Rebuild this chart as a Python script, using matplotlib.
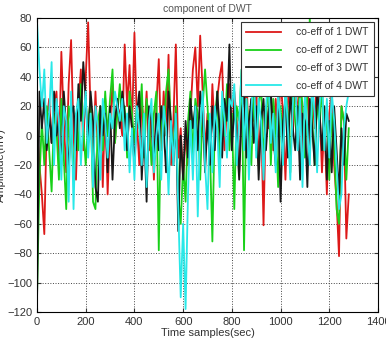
import numpy as np
import matplotlib.pyplot as plt

plt.rcParams['font.family'] = ['Liberation Sans', 'DejaVu Sans']

# samples every 10 points
t = np.arange(0, 1281, 10)

coef1 = [5, -20, -40, -67, 10, 25, -5, 20, 30, -15,
         57, 10, -25, 35, 65, 0, -30, 20, 45, -10,
         40, 77, 15, -20, 30, -10, 20, -35, 25, -40,
         10, 35, -5, 20, 15, 0, 62, 20, 48, 5,
         70, 10, -20, 25, 0, 30, -10, 15, -30, 20,
         52, -10, 30, 0, 55, -20, 10, 62, -15, 5,
         -30, 0, -20, 15, 45, 60, 20, 68, 30, -10,
         15, -20, 35, 0, 25, 40, 50, -10, 20, 35,
         -5, 30, 10, -25, 20, 0, 45, -15, 25, 10,
         35, -20, 15, -61, 20, 5, 30, -10, 25, 0,
         40, 15, -30, 20, 55, 0, 35, 10, 60, -15,
         25, 45, -10, 30, 5, 50, 20, -25, 10, -40,
         15, 30, -20, -45, -82, 20, 10, -70, -40]

coef2 = [-110, -30, 10, -20, 20, -10, -38, 15, 5, -30,
         25, -15, -50, 20, 10, -30, 15, -10, 35, 5,
         -20, 10, 25, -45, -50, 10, 20, -10, 30, 0,
         25, 45, -5, 15, 35, 10, 20, -15, 30, 15,
         -5, 20, 5, 35, -15, 25, 10, -20, 15, 30,
         -78, 20, 0, 30, 45, 5, -10, 20, -40, -60,
         -20, -45, 10, 30, -15, 25, 15, -30, 20, 45,
         20, -10, -72, 10, 30, -20, 25, 0, 35, -10,
         15, -50, 20, 10, 45, -78, 25, 5, -20, 30,
         -10, 20, 35, -15, 10, 40, -20, 25, 5, -35,
         20, -10, 30, 15, -25, 35, 10, -5, 40, 20,
         -15, 30, 80, 10, -20, 25, 5, 35, -10, 20,
         -30, 15, -5, -50, -60, 20, 10, -30, 5]

coef3 = [-115, 30, 5, 25, -10, 15, -5, 30, 0, 10,
         -20, 30, 5, -25, 15, 20, -10, 35, 10, 50,
         25, -5, 30, 10, -35, -45, 20, 0, 15, -25,
         20, -30, 10, 25, 5, 30, 15, -10, 20, 5,
         -20, 15, 30, -30, 5, -45, 20, 10, -20, 15,
         -10, 20, 5, -25, 30, 10, -20, 15, -65, 0,
         -30, 10, -15, 25, 5, 20, -10, 30, 15, -25,
         10, -20, 20, -10, 30, 5, -15, 25, 10, 62,
         -10, 20, 0, -30, 15, 30, -15, 10, 25, -5,
         20, -30, 10, 25, -10, 15, 30, 0, -20, 20,
         -45, 10, 25, -15, 30, 5, -10, 20, -30, 15,
         10, -35, 25, 5, -20, 30, 15, -10, 20, -30,
         10, -25, 20, -10, -40, 5, -20, 15, 10]

coef4 = [78, 45, 20, 45, -5, 15, 50, -20, 25, 10,
         -30, 20, 10, -45, 30, -50, 15, 25, -20, 10,
         30, -15, 15, -35, 20, 5, -30, 25, 10, -15,
         15, 5, 30, 20, 10, 25, -10, 15, -25, 5,
         -30, 20, 5, -20, 15, -35, 10, 25, -25, 0,
         15, -30, 20, 5, -40, 10, -20, 15, -50, -110,
         -60, -118, -40, 10, -30, 20, -55, 5, 30, -20,
         -50, 15, -25, 20, 5, -35, 30, 10, -15, 25,
         20, 35, -20, 10, 45, -10, 25, -30, 15, 50,
         -15, 25, 10, -30, 20, 40, -5, 15, -25, 30,
         10, -20, 35, 5, -30, 20, 45, -10, 25, -35,
         30, 5, -20, 35, 15, -25, 20, 40, -10, 25,
         -15, 30, 10, -20, -50, -40, 5, 20, 30]

labels = ['co-eff of 1 DWT', 'co-eff of 2 DWT', 'co-eff of 3 DWT', 'co-eff of 4 DWT']
colors = ['#dd1818', '#18d018', '#181818', '#28e8e8']

fig = plt.figure(figsize=(3.86, 3.38), dpi=100)
ax = fig.add_axes([37 / 386, 26 / 338, 341 / 386, 294 / 338])

for y, lab, c in zip([coef1, coef2, coef3, coef4], labels, colors):
    ax.plot(t, y, color=c, lw=1.3, label=lab)

ax.set_xlim(0, 1400)
ax.set_ylim(-120, 80)
ax.set_xticks(np.arange(0, 1401, 200))
ax.set_yticks(np.arange(-120, 81, 20))
ax.tick_params(direction='in', labelsize=8, length=3, top=True, right=True, colors='#333333')
ax.grid(True, linestyle=':', color='#444444', lw=0.7)

ax.set_title('component of DWT', fontsize=7.5, color='#555555', pad=4)
ax.set_xlabel('Time samples(sec)', fontsize=8, color='#333333', labelpad=1)
ax.set_ylabel('Amplitude(mV)', fontsize=8, color='#333333')
ax.yaxis.set_label_coords(-0.09, 0.5)

leg = ax.legend(loc='upper right', fontsize=7.5, fancybox=False, framealpha=1,
                edgecolor='#333333', handlelength=3.3, borderpad=0.5, labelspacing=0.75,
                handletextpad=1.5, borderaxespad=0.4)
leg.get_frame().set_linewidth(0.8)
for text in leg.get_texts():
    text.set_color('#333333')

fig.savefig('out.png', dpi=100)
